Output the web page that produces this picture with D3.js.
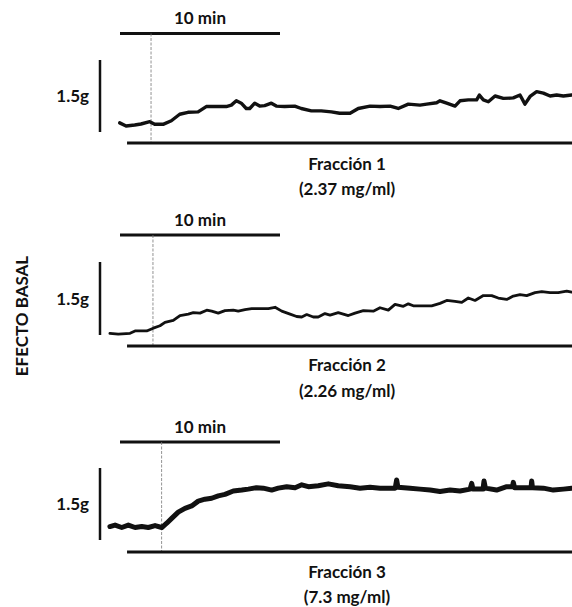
<!DOCTYPE html>
<html><head><meta charset="utf-8">
<script src="https://cdn.jsdelivr.net/npm/d3@7"></script>
<style>body{margin:0;background:#fff}svg{display:block}text{font-family:Lato,"Open Sans",sans-serif;font-weight:bold;fill:#111}</style>
</head><body><svg id="c" width="572" height="607"></svg>
<script>
// ---- data (time in minutes, tension in grams) ----
const panelNames = ["Fracción 1", "Fracción 2", "Fracción 3"];
const panelConc = ["(2.37 mg/ml)", "(2.26 mg/ml)", "(7.3 mg/ml)"];
const addTimes = [1.94, 2.06, 2.6]; // minute of sample addition (dashed line)
const scaleLabel = "1.5g";
const barLabel = "10 min";
const yTitle = "EFECTO BASAL";

const t1 = [-0.02,0.38,0.92,1.31,1.86,2.17,2.69,3.21,3.73,4.25,4.88,5.39,5.92,6.64,6.96,7.27,7.58,7.89,8.11,8.42,8.73,9.04,9.46,9.77,10.29,10.92,11.33,11.96,12.58,13.21,13.73,14.38,14.89,15.63,16.25,16.88,17.39,18.02,18.75,19.17,19.79,20.0,20.42,20.94,21.25,21.77,22.29,22.46,22.71,23.02,23.44,23.96,24.58,25.0,25.31,25.63,26.04,26.46,26.88,27.29,27.71,28.23];
const g1 = [0.19,0.125,0.146,0.167,0.215,0.16,0.16,0.235,0.37,0.41,0.42,0.53,0.53,0.53,0.56,0.65,0.60,0.49,0.49,0.60,0.54,0.55,0.60,0.54,0.53,0.54,0.49,0.44,0.44,0.42,0.39,0.39,0.49,0.54,0.53,0.54,0.49,0.58,0.56,0.58,0.61,0.65,0.60,0.54,0.65,0.67,0.67,0.77,0.67,0.63,0.75,0.70,0.71,0.77,0.58,0.74,0.84,0.81,0.75,0.77,0.75,0.77];

const t2 = [-0.63,-0.11,0.63,0.94,1.67,2.08,2.5,2.81,3.33,3.75,4.27,4.58,5.0,5.42,5.73,6.14,6.56,7.08,7.39,7.81,8.23,8.86,9.27,9.69,10.11,10.63,11.04,11.36,11.67,12.08,12.39,12.81,13.13,13.64,14.27,14.69,15.21,15.83,16.25,16.77,17.19,17.71,18.02,18.33,18.96,19.48,20.0,20.42,20.94,21.36,21.77,22.19,22.71,23.23,23.64,24.17,24.58,25.0,25.42,25.94,26.36,26.88,27.39,27.92,28.23];
const g2 = [0.035,0.02,0.035,0.083,0.083,0.14,0.19,0.26,0.30,0.40,0.43,0.46,0.45,0.51,0.49,0.45,0.50,0.51,0.49,0.52,0.54,0.54,0.54,0.57,0.49,0.43,0.38,0.37,0.42,0.37,0.37,0.44,0.41,0.46,0.40,0.45,0.50,0.49,0.56,0.51,0.63,0.59,0.64,0.60,0.60,0.60,0.65,0.71,0.69,0.67,0.76,0.71,0.81,0.81,0.76,0.73,0.80,0.83,0.81,0.87,0.89,0.87,0.87,0.90,0.88];

const t3 = [-0.63,-0.31,0.11,0.52,0.94,1.36,1.77,2.19,2.61,2.92,3.23,3.64,4.06,4.48,4.89,5.31,5.73,6.14,6.56,7.08,7.61,8.02,8.54,8.96,9.48,9.89,10.42,10.94,11.36,11.77,12.39,13.02,13.64,14.38,15.0,15.63,16.25,16.88,17.2,17.29,17.37,18.13,18.75,19.38,20.0,20.63,21.25,21.88,21.98,22.06,22.69,22.75,22.84,23.54,24.17,24.53,24.58,24.66,25.42,25.69,25.73,25.78,26.46,27.08,27.71,28.23];
const g3 = [0.28,0.31,0.26,0.31,0.26,0.28,0.26,0.30,0.26,0.35,0.45,0.58,0.66,0.71,0.81,0.85,0.87,0.92,0.95,1.02,1.04,1.06,1.09,1.08,1.04,1.08,1.11,1.09,1.15,1.11,1.13,1.17,1.13,1.11,1.08,1.10,1.08,1.08,1.08,1.25,1.10,1.08,1.06,1.04,1.01,1.04,1.02,1.06,1.18,1.06,1.06,1.23,1.08,1.04,1.11,1.11,1.20,1.09,1.09,1.09,1.23,1.09,1.08,1.04,1.06,1.08];

const times = [t1, t2, t3];
const grams = [g1, g2, g3];

// ---- layout ----
const svg = d3.select("#c");
const x = d3.scaleLinear().domain([0, 28.25]).range([120, 572]);
const panels = [
  {barY: 33.5, top: 60, bottom: 132, base: 143, textY: 24, nameY: 170, concY: 195, sw: 3.4},
  {barY: 235, top: 262, bottom: 335, base: 346, textY: 226, nameY: 371, concY: 397, sw: 2.8},
  {barY: 442, top: 468, bottom: 540, base: 552, textY: 433, nameY: 578, concY: 603, sw: 5}
];

panels.forEach((p, i) => {
  const y = d3.scaleLinear().domain([0, 1.5]).range([p.bottom, p.top]);
  const g = svg.append("g");
  // 10 min time bar
  g.append("line").attr("x1", x(0)).attr("x2", x(10)).attr("y1", p.barY).attr("y2", p.barY)
    .attr("stroke", "#111").attr("stroke-width", 3);
  g.append("text").attr("x", (x(0) + x(10)) / 2).attr("y", p.textY).attr("text-anchor", "middle")
    .attr("font-size", 17).text(barLabel);
  // dashed addition marker
  g.append("line").attr("x1", x(addTimes[i])).attr("x2", x(addTimes[i])).attr("y1", p.barY).attr("y2", p.base)
    .attr("stroke", "#777").attr("stroke-width", 0.8).attr("stroke-dasharray", "3,1.5");
  // 1.5 g scale bar
  g.append("line").attr("x1", 100).attr("x2", 100).attr("y1", y(1.5)).attr("y2", y(0))
    .attr("stroke", "#111").attr("stroke-width", 2.5);
  g.append("text").attr("x", 89).attr("y", (y(0) + y(1.5)) / 2 + 6).attr("text-anchor", "end")
    .attr("font-size", 17).text(scaleLabel);
  // baseline
  g.append("line").attr("x1", x(0.44)).attr("x2", 572).attr("y1", p.base).attr("y2", p.base)
    .attr("stroke", "#111").attr("stroke-width", 3);
  // trace
  const pts = times[i].map((t, k) => [t, grams[i][k]]);
  g.append("path").datum(pts)
    .attr("d", d3.line().x(d => x(d[0])).y(d => y(d[1])))
    .attr("fill", "none").attr("stroke", "#111").attr("stroke-width", p.sw)
    .attr("stroke-linejoin", "round").attr("stroke-linecap", "round");
  // labels
  g.append("text").attr("x", 347).attr("y", p.nameY).attr("text-anchor", "middle")
    .attr("font-size", 17).text(panelNames[i]);
  g.append("text").attr("x", 347).attr("y", p.concY).attr("text-anchor", "middle")
    .attr("font-size", 17).text(panelConc[i]);
});

svg.append("text").attr("transform", "translate(28,316) rotate(-90)").attr("text-anchor", "middle")
  .attr("font-size", 17).text(yTitle);
</script></body></html>
